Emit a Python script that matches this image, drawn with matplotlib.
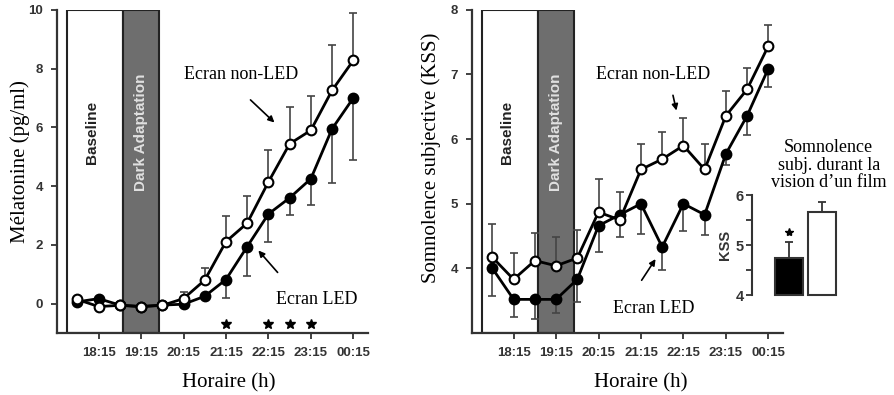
import numpy as np
import matplotlib
matplotlib.use("Agg")
from matplotlib import pyplot as plt
import matplotlib.transforms as mtransforms

# time points (decimal hours, 24.25 = 00:15)
hours = [17.75, 18.25, 18.75, 19.25, 19.75, 20.25, 20.75, 21.25, 21.75, 22.25, 22.75, 23.25, 23.75, 24.25]
tick_hours = [18.25, 19.25, 20.25, 21.25, 22.25, 23.25, 24.25]
tick_labels = ["18:15", "19:15", "20:15", "21:15", "22:15", "23:15", "00:15"]

# melatonin (pg/ml)
mel_led = [0.06, 0.17, -0.05, -0.1, -0.05, -0.02, 0.25, 0.82, 1.94, 3.05, 3.6, 4.25, 5.95, 7.0]
mel_led_err = [0, 0, 0, 0, 0, 0, 0, 0.62, 1.0, 0.96, 0.57, 0.88, 1.85, 2.1]
mel_non = [0.14, -0.1, -0.06, -0.1, -0.06, 0.17, 0.8, 2.11, 2.74, 4.14, 5.44, 5.9, 7.26, 8.28]
mel_non_err = [0, 0, 0, 0, 0, 0.23, 0.4, 0.86, 0.92, 1.09, 1.26, 1.17, 1.54, 1.62]
star_hours = [21.25, 22.25, 22.75, 23.25]

# subjective sleepiness (KSS)
kss_led = [4.0, 3.52, 3.52, 3.52, 3.83, 4.66, 4.83, 5.0, 4.33, 5.0, 4.83, 5.77, 6.36, 7.09]
kss_led_err = [0.42, 0.27, 0.31, 0.21, 0.35, 0.4, 0.35, 0.47, 0.35, 0.42, 0.32, 0.17, 0.3, 0.28]
kss_non = [4.17, 3.83, 4.12, 4.04, 4.16, 4.87, 4.75, 5.53, 5.69, 5.9, 5.53, 6.36, 6.77, 7.44]
kss_non_err = [0.52, 0.4, 0.42, 0.44, 0.44, 0.51, 0.43, 0.39, 0.42, 0.43, 0.39, 0.38, 0.33, 0.33]

# inset: KSS during the film
inset_vals = [4.74, 5.67]
inset_err = [0.33, 0.2]

serif = "Liberation Serif"
sans = "Liberation Sans"
gray = "#333333"

fig = plt.figure(figsize=(8.94, 3.95), dpi=100)
ax1 = fig.add_axes([0.0638, 0.157, 0.348, 0.818])
ax2 = fig.add_axes([0.528, 0.157, 0.348, 0.818])


def style_axis(ax, ylim, yticks, xlab_x):
    ax.set_xlim(17.27, 24.6)
    ax.set_ylim(*ylim)
    ax.set_yticks(yticks)
    ax.set_xticks(tick_hours)
    ax.set_xticklabels(tick_labels)
    for s in ["top", "right"]:
        ax.spines[s].set_visible(False)
    for s in ["left", "bottom"]:
        ax.spines[s].set_linewidth(1.6)
        ax.spines[s].set_color(gray)
    ax.tick_params(direction="out", length=4, width=1.3, color=gray, labelcolor=gray, pad=6)
    for lab in ax.get_xticklabels() + ax.get_yticklabels():
        lab.set_fontfamily(sans)
        lab.set_fontweight("bold")
        lab.set_fontsize(9.5)
    ax.set_xlabel("Horaire (h)", fontfamily=serif, fontsize=15)
    ax.xaxis.set_label_coords(xlab_x, -0.125)
    # Baseline / Dark Adaptation boxes
    ax.axvspan(17.5, 18.83, ymin=0, ymax=1, facecolor="white", edgecolor="#222222", lw=1.5, zorder=1)
    ax.axvspan(18.83, 19.67, ymin=0, ymax=1, facecolor="#6e6e6e", edgecolor="#222222", lw=1.5, zorder=1)
    tr = mtransforms.blended_transform_factory(ax.transData, ax.transAxes)
    ax.text(18.1, 0.62, "Baseline", transform=tr, rotation=90, ha="center", va="center",
            fontfamily=sans, fontweight="bold", fontsize=11, color="#222222", zorder=2)
    ax.text(19.25, 0.62, "Dark Adaptation", transform=tr, rotation=90, ha="center", va="center",
            fontfamily=sans, fontweight="bold", fontsize=11, color="#e0e0e0", zorder=2)


def plot_series(ax, y, err, filled, up):
    e = np.array(err)
    yerr = [np.zeros_like(e), e] if up else [e, np.zeros_like(e)]
    ax.errorbar(hours, y, yerr=yerr, fmt="none", ecolor="#444444", elinewidth=1.2,
                capsize=3, capthick=1.2, zorder=3)
    ax.plot(hours, y, color="black", lw=2, marker="o", markersize=7,
            markerfacecolor="black" if filled else "white", markeredgecolor="black",
            markeredgewidth=1.5, zorder=4)


arrow = dict(arrowstyle="-|>", color="black", lw=1.2, mutation_scale=9)

# left panel: melatonin
style_axis(ax1, (-1, 10), [0, 2, 4, 6, 8, 10], 0.553)
plot_series(ax1, mel_led, mel_led_err, True, False)
plot_series(ax1, mel_non, mel_non_err, False, True)
ax1.plot(star_hours, [-0.7] * len(star_hours), ls="none", marker="*", color="black", markersize=7)
ax1.set_ylabel("Mélatonine (pg/ml)", fontfamily=serif, fontsize=15)
ax1.yaxis.set_label_coords(-0.087, 0.532)
ax1.text(20.25, 7.8, "Ecran non-LED", fontfamily=serif, fontsize=13, ha="left", va="center")
ax1.annotate("", xy=(22.44, 6.1), xytext=(21.78, 7.0), arrowprops=arrow)
ax1.text(22.42, 0.14, "Ecran LED", fontfamily=serif, fontsize=13, ha="left", va="center")
ax1.annotate("", xy=(21.97, 1.88), xytext=(22.51, 0.99), arrowprops=arrow)

# right panel: KSS
style_axis(ax2, (3, 8), [4, 5, 6, 7, 8], 0.543)
plot_series(ax2, kss_led, kss_led_err, True, False)
plot_series(ax2, kss_non, kss_non_err, False, True)
ax2.set_ylabel("Somnolence subjective (KSS)", fontfamily=serif, fontsize=15)
ax2.yaxis.set_label_coords(-0.1, 0.542)
ax2.text(20.2, 7.0, "Ecran non-LED", fontfamily=serif, fontsize=13, ha="left", va="center")
ax2.annotate("", xy=(22.1, 6.4), xytext=(21.99, 6.72), arrowprops=arrow)
ax2.text(20.6, 3.38, "Ecran LED", fontfamily=serif, fontsize=13, ha="left", va="center")
ax2.annotate("", xy=(21.63, 4.18), xytext=(21.23, 3.78), arrowprops=arrow)

fig.text(0.927, 0.582, "Somnolence\nsubj. durant la\nvision d\u2019un film", fontfamily=serif,
         fontsize=13, ha="center", va="center", linespacing=1.05)

# inset bar chart
ax3 = fig.add_axes([0.841, 0.253, 0.1, 0.253])
ax3.bar([0, 1], np.array(inset_vals) - 4, width=0.86, bottom=4, color=["black", "white"],
        edgecolor="#333333", lw=1.5, zorder=2, clip_on=False)
ax3.errorbar([0, 1], inset_vals, yerr=[[0, 0], inset_err], fmt="none", ecolor="#333333",
             elinewidth=1.3, capsize=3, capthick=1.3, zorder=1)
ax3.plot([0], [5.27], ls="none", marker="*", color="black", markersize=6)
ax3.set_xlim(-1.15, 1.6)
ax3.set_ylim(4, 6)
ax3.set_yticks([4, 5, 6])
ax3.set_yticks([4.5, 5.5], minor=True)
ax3.set_xticks([])
ax3.patch.set_alpha(0)
for s in ["top", "right", "bottom"]:
    ax3.spines[s].set_visible(False)
ax3.spines["left"].set_linewidth(1.5)
ax3.spines["left"].set_color(gray)
ax3.tick_params(which="both", direction="out", length=4, width=1.3, color=gray, labelcolor=gray, pad=2)
for lab in ax3.get_yticklabels():
    lab.set_fontfamily(sans)
    lab.set_fontweight("bold")
    lab.set_fontsize(10.5)
ax3.set_ylabel("KSS", fontfamily=sans, fontweight="bold", fontsize=10.5, color=gray, labelpad=2)

fig.savefig("out.png", dpi=100)
